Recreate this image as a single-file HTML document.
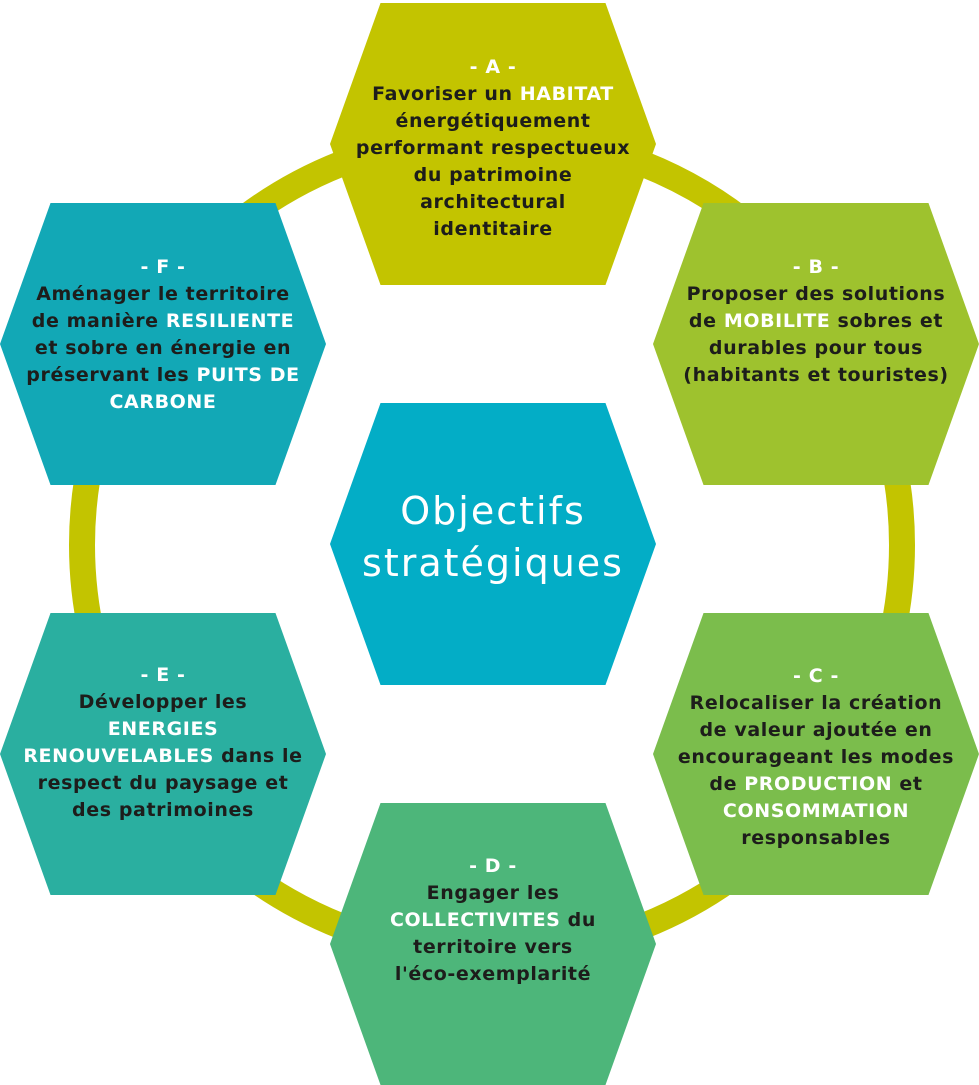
<!DOCTYPE html>
<html><head><meta charset="utf-8"><style>
body{margin:0;width:979px;height:1085px;background:#fff;position:relative;overflow:hidden;font-family:"DejaVu Sans","Liberation Sans",sans-serif}
.h{position:absolute;width:326px;height:282px;clip-path:polygon(15.5% 0,84.5% 0,100% 50%,84.5% 100%,15.5% 100%,0 50%);display:flex;align-items:center;justify-content:center;text-align:center;color:#1d1d1b;font-weight:bold;font-size:19px;line-height:27px;letter-spacing:0.6px}
.h div{width:326px;white-space:nowrap}
.w{color:#fff}
svg{position:absolute;left:0;top:0}
</style></head><body>
<svg width="979" height="1085"><circle cx="492" cy="545" r="410" fill="none" stroke="#c3c400" stroke-width="26"/></svg>
<div class="h" style="left:330px;top:3px;background:#c3c400"><div style="margin-top:8px"><span class="w">- A -</span><br>Favoriser un <span class="w">HABITAT</span><br>énergétiquement<br>performant respectueux<br>du patrimoine<br>architectural<br>identitaire</div></div>
<div class="h" style="left:653px;top:203px;background:#9ec22e"><div style="margin-top:-46px"><span class="w">- B -</span><br>Proposer des solutions<br>de <span class="w">MOBILITE</span> sobres et<br>durables pour tous<br>(habitants et touristes)</div></div>
<div class="h" style="left:0px;top:203px;background:#12a8b6"><div style="margin-top:-18px"><span class="w">- F -</span><br>Aménager le territoire<br>de manière <span class="w">RESILIENTE</span><br>et sobre en énergie en<br>préservant les <span class="w">PUITS DE<br>CARBONE</span></div></div>
<div class="h" style="left:330px;top:403px;background:#03adc6;color:#fff;font-weight:normal;font-size:38px;line-height:52px;letter-spacing:2px"><div style="margin-top:-14px">Objectifs<br>stratégiques</div></div>
<div class="h" style="left:0px;top:613px;background:#2aafa0"><div style="margin-top:-22px"><span class="w">- E -</span><br>Développer les<br><span class="w">ENERGIES<br>RENOUVELABLES</span> dans le<br>respect du paysage et<br>des patrimoines</div></div>
<div class="h" style="left:653px;top:613px;background:#7bbd4c"><div style="margin-top:6px"><span class="w">- C -</span><br>Relocaliser la création<br>de valeur ajoutée en<br>encourageant les modes<br>de <span class="w">PRODUCTION</span> et<br><span class="w">CONSOMMATION</span><br>responsables</div></div>
<div class="h" style="left:330px;top:803px;background:#4db67a"><div style="margin-top:-48px"><span class="w">- D -</span><br>Engager les<br><span class="w">COLLECTIVITES</span> du<br>territoire vers<br>l'éco-exemplarité</div></div>
</body></html>
